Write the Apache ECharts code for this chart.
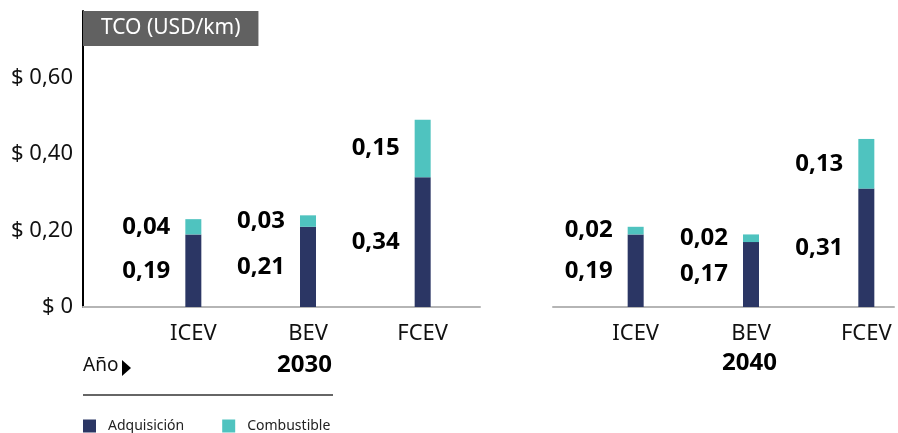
<!DOCTYPE html>
<html>
<head>
<meta charset="utf-8">
<script src="https://cdn.jsdelivr.net/npm/echarts@6/dist/echarts.min.js"></script>
<style>
  html, body { margin: 0; padding: 0; background: #fff; }
  #chart { width: 898px; height: 433px; }
</style>
</head>
<body>
<div id="chart"></div>
<script>
// datos
var categories = ['ICEV', 'BEV', 'FCEV'];
var adquisicion2030 = [0.19, 0.21, 0.34];
var combustible2030 = [0.04, 0.03, 0.15];
var adquisicion2040 = [0.19, 0.17, 0.31];
var combustible2040 = [0.02, 0.02, 0.13];
var yTicks = [0, 0.2, 0.4, 0.6];

var DARK = '#2b3664',
    TEAL = '#4fc3bf',
    FONT = 'Noto Sans';

function fmt(v) {
    return v.toFixed(2).replace('.', ',');
}

var yMin = 0, yMax = 0.775;

function hiddenY(gridIndex) {
    return { type: 'value', gridIndex: gridIndex, min: yMin, max: yMax, interval: 0.2, show: false };
}

function frameX(gridIndex) {
    return {
        type: 'value', gridIndex: gridIndex, min: 0, max: 1,
        axisLine: { show: true, lineStyle: { color: '#b5b5b5', width: 2 } },
        axisTick: { show: false }, axisLabel: { show: false }, splitLine: { show: false }
    };
}

function catX(gridIndex) {
    return {
        type: 'category', gridIndex: gridIndex, data: categories,
        axisLine: { show: false }, axisTick: { show: false },
        axisLabel: { color: '#111', fontSize: 22, fontFamily: FONT, margin: 16 }
    };
}

function barSeries(name, data, color, xi, stack) {
    return {
        name: name, type: 'bar', stack: stack, data: data,
        xAxisIndex: xi, yAxisIndex: xi, barWidth: 16,
        itemStyle: { color: color },
        label: {
            show: true, position: 'left', distance: 15,
            color: '#000', fontSize: 24, fontWeight: 'bold', fontFamily: FONT,
            formatter: function (p) { return fmt(p.value); }
        }
    };
}

function grid(left, width) {
    return { left: left, width: width, top: 11, bottom: 126, outerBoundsMode: 'none', containLabel: false };
}

var myChart = echarts.init(document.getElementById('chart'));

myChart.setOption({
    animation: false,
    textStyle: { fontFamily: FONT },
    title: {
        text: 'TCO (USD/km)',
        left: 83, top: 11,
        padding: [5, 18],
        backgroundColor: '#616161',
        textStyle: { color: '#fff', fontSize: 21, fontWeight: 'normal', lineHeight: 25, fontFamily: FONT }
    },
    legend: {
        data: ['Adquisición', 'Combustible'],
        left: 83, top: 419, padding: 0,
        icon: 'rect', itemWidth: 13, itemHeight: 13, itemGap: 38,
        textStyle: { fontSize: 14, lineHeight: 14, color: '#222', padding: [0, 0, 0, 7], fontFamily: FONT }
    },
    grid: [grid(83, 397), grid(136, 344), grid(553, 341), grid(578, 346)],
    xAxis: [frameX(0), catX(1), frameX(2), catX(3)],
    yAxis: [
        {
            type: 'value', gridIndex: 0, min: yMin, max: yMax, interval: 0.2,
            axisLine: { show: true, lineStyle: { color: '#000', width: 2 } },
            axisTick: { show: false }, splitLine: { show: false },
            axisLabel: {
                showMaxLabel: false, margin: 10,
                color: '#111', fontSize: 22, fontFamily: FONT,
                formatter: function (v) {
                    for (var i = 0; i < yTicks.length; i++) {
                        if (Math.abs(v - yTicks[i]) < 1e-6) {
                            return v === 0 ? '$ 0' : '$ ' + fmt(v);
                        }
                    }
                    return '';
                }
            }
        },
        hiddenY(1), hiddenY(2), hiddenY(3)
    ],
    series: [
        barSeries('Adquisición', adquisicion2030, DARK, 1, 'a'),
        barSeries('Combustible', combustible2030, TEAL, 1, 'a'),
        barSeries('Adquisición', adquisicion2040, DARK, 3, 'b'),
        barSeries('Combustible', combustible2040, TEAL, 3, 'b')
    ],
    graphic: [
        { type: 'text', left: 83, top: 356, style: { text: 'Año', fontSize: 19, fill: '#111', fontFamily: FONT } },
        { type: 'polygon', shape: { points: [[122, 360], [131, 368], [122, 376]] }, style: { fill: '#000' } },
        { type: 'text', left: 277, top: 353, style: { text: '2030', fontSize: 24, fontWeight: 'bold', fill: '#000', fontFamily: FONT } },
        { type: 'line', shape: { x1: 83, y1: 395, x2: 333, y2: 395 }, style: { stroke: '#333', lineWidth: 1.5 } },
        { type: 'text', left: 722, top: 351, style: { text: '2040', fontSize: 24, fontWeight: 'bold', fill: '#000', fontFamily: FONT } }
    ]
});
</script>
</body>
</html>
